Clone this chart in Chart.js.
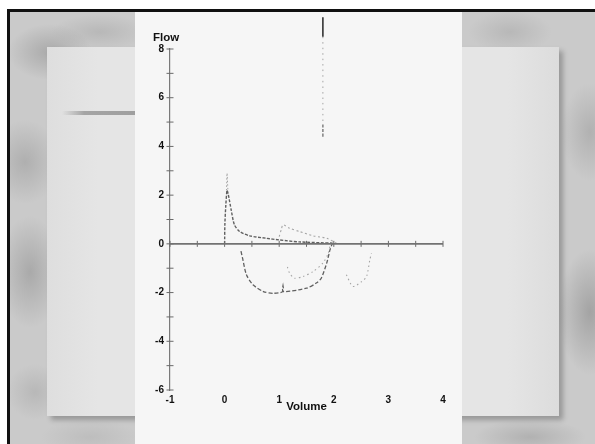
<!DOCTYPE html>
<html>
<head>
<meta charset="utf-8">
<script src="https://cdn.jsdelivr.net/npm/chart.js@4/dist/chart.umd.min.js"></script>
<style>
  html, body { margin:0; padding:0; }
  body { width:595px; height:444px; overflow:hidden; position:relative; background:#fff; }
  #frame { position:absolute; left:7px; top:9px; width:600px; height:450px; background:#111; }
  #outer { position:absolute; left:10px; top:12px; right:0; bottom:0;
    background:
      radial-gradient(ellipse 60px 40px at 40px 40px, rgba(130,130,130,0.45), rgba(130,130,130,0) 70%),
      radial-gradient(ellipse 50px 60px at 15px 150px, rgba(135,135,135,0.4), rgba(135,135,135,0) 70%),
      radial-gradient(ellipse 45px 80px at 20px 260px, rgba(130,130,130,0.45), rgba(130,130,130,0) 70%),
      radial-gradient(ellipse 40px 40px at 25px 380px, rgba(150,150,150,0.35), rgba(150,150,150,0) 70%),
      radial-gradient(ellipse 70px 25px at 90px 20px, rgba(150,150,150,0.35), rgba(150,150,150,0) 70%),
      radial-gradient(ellipse 60px 30px at 500px 20px, rgba(150,150,150,0.35), rgba(150,150,150,0) 70%),
      radial-gradient(ellipse 40px 70px at 580px 120px, rgba(140,140,140,0.4), rgba(140,140,140,0) 70%),
      radial-gradient(ellipse 45px 90px at 580px 300px, rgba(125,125,125,0.5), rgba(125,125,125,0) 70%),
      radial-gradient(ellipse 80px 25px at 520px 425px, rgba(140,140,140,0.4), rgba(140,140,140,0) 70%),
      radial-gradient(ellipse 70px 25px at 80px 425px, rgba(160,160,160,0.3), rgba(160,160,160,0) 70%),
      #cacaca; }
  #board { position:absolute; left:47px; top:47px; width:512px; height:369px;
    background: linear-gradient(to right, #dedede, #e5e5e5 10%, #e5e5e5 90%, #dcdcdc);
    box-shadow: 4px 4px 5px rgba(0,0,0,0.25); }
  #bar { position:absolute; left:62px; top:111px; width:74px; height:4px;
    background: linear-gradient(to right, rgba(160,160,160,0), #a4a4a4 30%, #9f9f9f); }
  #paper { position:absolute; left:135px; top:12px; width:327px; height:440px; background:#f6f6f6; }
  canvas { position:absolute; left:0; top:0; }
</style>
</head>
<body>
<div id="frame"></div>
<div id="outer"></div>
<div id="board"></div>
<div id="bar"></div>
<div id="paper"></div>
<canvas id="c" width="595" height="444"></canvas>
<script>
// Tick labels and tick marks
const xTickLabels = ['-1', '0', '1', '2', '3', '4'];
const yTickLabels = ['-6', '-4', '-2', '0', '2', '4', '6', '8'];
const xTickMarks = [-1, -0.5, 0, 0.5, 1, 1.5, 2, 2.5, 3, 3.5, 4];
const yTickMarks = [-6, -5, -4, -3, -2, -1, 0, 1, 2, 3, 4, 5, 6, 7, 8];

// Expiratory curve (dark)
const expDarkVol  = [0, 0.005, 0.02, 0.045, 0.07, 0.12, 0.18, 0.28, 0.46, 0.76, 1.0, 1.37, 1.98];
const expDarkFlow = [0, 0.8, 1.5, 2.2, 2.0, 1.4, 0.78, 0.5, 0.33, 0.23, 0.16, 0.08, 0.03];
// Expiratory peak tip (light)
const expTipVol  = [0.035, 0.045, 0.06];
const expTipFlow = [2.2, 2.9, 2.2];
// Second expiratory bump (light)
const bumpVol  = [1.0, 1.04, 1.07, 1.19, 1.38, 1.62, 1.87, 2.05];
const bumpFlow = [0.3, 0.6, 0.78, 0.64, 0.5, 0.33, 0.23, 0.03];
// Inspiratory curve (dark)
const inspDarkVol  = [0.3, 0.33, 0.4, 0.52, 0.71, 0.89, 1.07, 1.07, 1.07, 1.5, 1.68, 1.77, 1.87, 1.93, 1.97];
const inspDarkFlow = [-0.3, -0.6, -1.27, -1.68, -1.96, -2.03, -1.96, -1.72, -1.96, -1.82, -1.61, -1.41, -0.79, -0.25, 0];
// Inspiratory curve (light)
const inspLightVol  = [1.15, 1.19, 1.28, 1.44, 1.62, 1.8, 1.9, 1.93];
const inspLightFlow = [-0.95, -1.2, -1.41, -1.34, -1.14, -0.79, -0.38, -0.1];
// Third inspiratory fragment (light)
const inspThirdVol  = [2.23, 2.35, 2.51, 2.6, 2.66, 2.69];
const inspThirdFlow = [-1.27, -1.75, -1.55, -1.34, -0.66, -0.38];
// Vertical artifact at top
const spikeVol = 1.8;
const spikeTopFlow = [9.3, 8.5];
const spikeMidFlow = [8.5, 4.9];
const spikeLowFlow = [4.9, 4.35];
// Zero line
const zeroLineVol = [-1, 4];
const zeroLineFlow = [0, 0];

const pts = (xs, ys) => xs.map((x, i) => ({x, y: ys[i]}));
const vpts = (ys) => ys.map(y => ({x: spikeVol, y}));

const dark = '#606060', light = '#a4a4a4';
const curve = (data, color, width, dash) => ({
  type: 'scatter', data, showLine: true, borderColor: color, borderWidth: width,
  borderDash: dash, pointRadius: 0, tension: 0.25, clip: false, fill: false
});

const datasets = [
  curve(pts(zeroLineVol, zeroLineFlow), '#727272', 1.6, []),
  {type:'scatter', data: xTickMarks.map(x => ({x, y:0})), pointStyle:'line', rotation:90,
   pointRadius:3, borderColor:'#6a6a6a', borderWidth:1, showLine:false, clip:false},
  {type:'scatter', data: yTickMarks.map(y => ({x:-1, y})), pointStyle:'line',
   pointRadius:3.5, borderColor:'#6a6a6a', borderWidth:1, showLine:false, clip:false},
  curve(pts(expDarkVol, expDarkFlow), dark, 1.4, [3, 1.5]),
  curve(pts(expTipVol, expTipFlow), light, 1, [1.5, 2]),
  curve(pts(bumpVol, bumpFlow), light, 1.1, [2, 2.5]),
  curve(pts(inspDarkVol, inspDarkFlow), dark, 1.3, [4, 2]),
  curve(pts(inspLightVol, inspLightFlow), light, 1.1, [1.5, 3]),
  curve(pts(inspThirdVol, inspThirdFlow), light, 1.1, [1.5, 3]),
  curve(vpts(spikeTopFlow), '#333', 1.6, []),
  curve(vpts(spikeMidFlow), light, 1, [1.5, 4]),
  curve(vpts(spikeLowFlow), '#777', 1.4, [3, 1.5]),
];

const flowLabel = {
  id: 'flowLabel',
  afterDraw(chart) {
    const {ctx, chartArea} = chart;
    ctx.save();
    ctx.font = 'bold 11.5px "Liberation Sans", Arial, sans-serif';
    ctx.fillStyle = '#111';
    ctx.textAlign = 'left';
    ctx.textBaseline = 'middle';
    ctx.fillText('Flow', chartArea.left - 17, chartArea.top - 11);
    ctx.restore();
  }
};

new Chart(document.getElementById('c'), {
  type: 'scatter',
  data: { datasets },
  plugins: [flowLabel],
  options: {
    responsive: false, animation: false, devicePixelRatio: 1,
    layout: { padding: { left: 130, right: 152, top: 49, bottom: 30 } },
    plugins: { legend: { display: false }, tooltip: { enabled: false } },
    scales: {
      x: {
        type: 'linear', min: -1, max: 4, position: 'bottom',
        afterBuildTicks: s => { s.ticks = xTickLabels.map(t => ({value: Number(t)})); },
        afterFit: s => { s.height = 24; },
        grid: { display: false, drawTicks: false },
        border: { display: false },
        ticks: { padding: 4, color: '#111', font: { family: '"Liberation Sans", Arial', weight: 'bold', size: 10 } },
        title: { display: true, text: 'Volume', color: '#111', padding: { top: 0, bottom: 0 },
                 font: { family: '"Liberation Sans", Arial', weight: 'bold', size: 11.5 } }
      },
      y: {
        type: 'linear', min: -6, max: 8, position: 'left',
        afterBuildTicks: s => { s.ticks = yTickLabels.map(t => ({value: Number(t)})); },
        afterFit: s => { s.width = 40; },
        grid: { display: false, drawTicks: false },
        border: { display: true, color: '#7a7a7a', width: 1.2 },
        ticks: { padding: 6, color: '#111', font: { family: '"Liberation Sans", Arial', weight: 'bold', size: 10 } }
      }
    }
  }
});
</script>
</body>
</html>
